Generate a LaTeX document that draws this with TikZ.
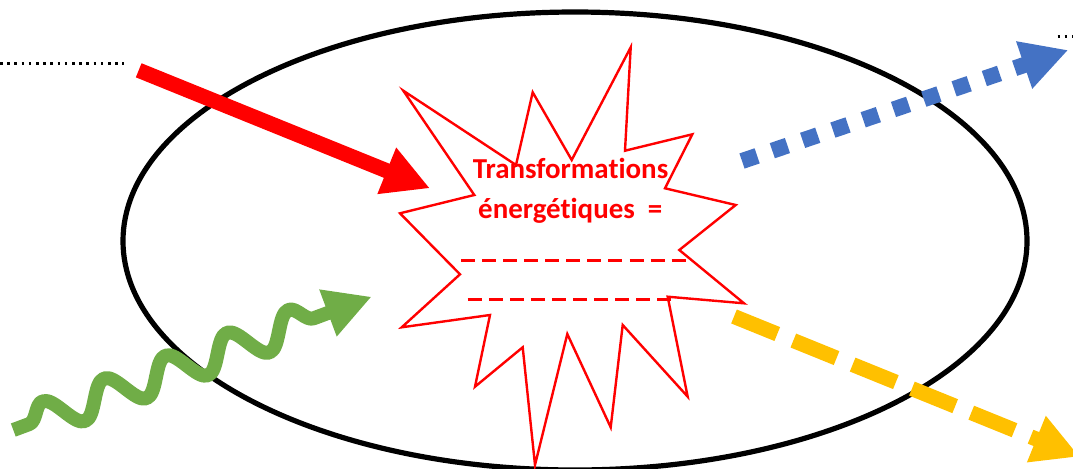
\documentclass[tikz,border=0pt]{standalone}
\usepackage{fontspec}
\setmainfont{Carlito}[Ligatures=NoCommon]
\usetikzlibrary{arrows.meta,decorations.pathmorphing}

\definecolor{rouge}{RGB}{255,0,0}
\definecolor{bleu}{RGB}{68,114,196}
\definecolor{jaune}{RGB}{255,192,0}
\definecolor{vert}{RGB}{112,173,71}

\tikzset{every picture/.style={line width=0.75pt}}
\tikzset{
  pointe/.style={-{Triangle[length=35pt,width=35pt]}},
  entree/.style={rouge, line width=11.4pt, pointe},
  sortie/.style={bleu, line width=12pt, dash pattern=on 12pt off 12pt, pointe},
  chaleur/.style={jaune, line width=11.25pt, dash pattern=on 35pt off 13pt, pointe},
  ondes/.style={vert, line width=10.5pt, line join=round, pointe, decorate,
    decoration={snake, segment length=49.2pt, amplitude=12.5pt, pre length=12.75pt, post length=35pt}},
  pointilles/.style={line width=2pt, dash pattern=on 2pt off 3.4pt},
  tirets/.style={rouge, line width=2.5pt, dash pattern=on 10.5pt off 5.3pt},
  texte/.style={text=rouge, font=\fontsize{21.7pt}{27pt}\selectfont\bfseries, inner sep=0pt}
}

\begin{document}
\begin{tikzpicture}[x=0.75pt,y=0.75pt,yscale=-1,xscale=1]
\useasboundingbox (0,0) rectangle (1073,468);
\clip (0,0) rectangle (1073,468);

%Shape: Ellipse
\draw [line width=3.9pt] (575,241) ellipse [x radius=452, y radius=229];

%Shape: Explosion
\draw [rouge, fill=white, line width=1.8pt] (403.3,90.7) -- (516,165) -- (532.7,92.3) -- (571.7,160) -- (630.7,47.3) -- (625,150.7) -- (692.3,134.3) -- (665,188.3) -- (735.7,205) -- (679.3,250) -- (744,303.3) -- (667.7,296.7) -- (687.7,396.7) -- (622.7,325) -- (610.7,427.3) -- (567.3,334) -- (535,465) -- (522.7,347.3) -- (475,386.7) -- (490,315) -- (401.7,327.3) -- (460,274.3) -- (400,213.3) -- (474.3,195) -- cycle ;

% Text Node
\node [texte, anchor=base] (ligne1) at (570.5,178.3) {Transformations};
% Text Node
\node [texte, anchor=base] (ligne2) at (570.3,218.3) {énergétiques\ \ =};

%Dashed Lines
\coordinate (ta) at (461,260.7);
\coordinate (tb) at (688,260.7);
\coordinate (tc) at (467.7,299.3);
\coordinate (td) at (672,299.3);
\draw [tirets] (ta) -- (tb) ;
\draw [tirets] (tc) -- (td) ;

%Dotted Lines
\coordinate (pa) at (0,63.3);
\coordinate (pb) at (124,63.3);
\coordinate (pc) at (1057.5,36.7);
\coordinate (pd) at (1076,36.7);
\draw [pointilles] (pa) -- (pb) ;
\draw [pointilles] (pc) -- (pd) ;

%Arrows
\coordinate (r0) at (138.7,70.3);
\coordinate (r1) at (430,188.3);
\draw [entree] (r0) -- (r1) ;

\coordinate (b0) at (742,161);
\coordinate (b1) at (1068.3,50);
\draw [sortie] (b0) -- (b1) ;

\coordinate (j0) at (734,316.5);
\coordinate (j1) at (1079.6,456.6);
\draw [chaleur] (j0) -- (j1) ;

\coordinate (g0) at (13.3,430);
\coordinate (g1) at (371.7,296.7);
\draw [ondes] (g0) -- (g1) ;

\end{tikzpicture}
\end{document}
